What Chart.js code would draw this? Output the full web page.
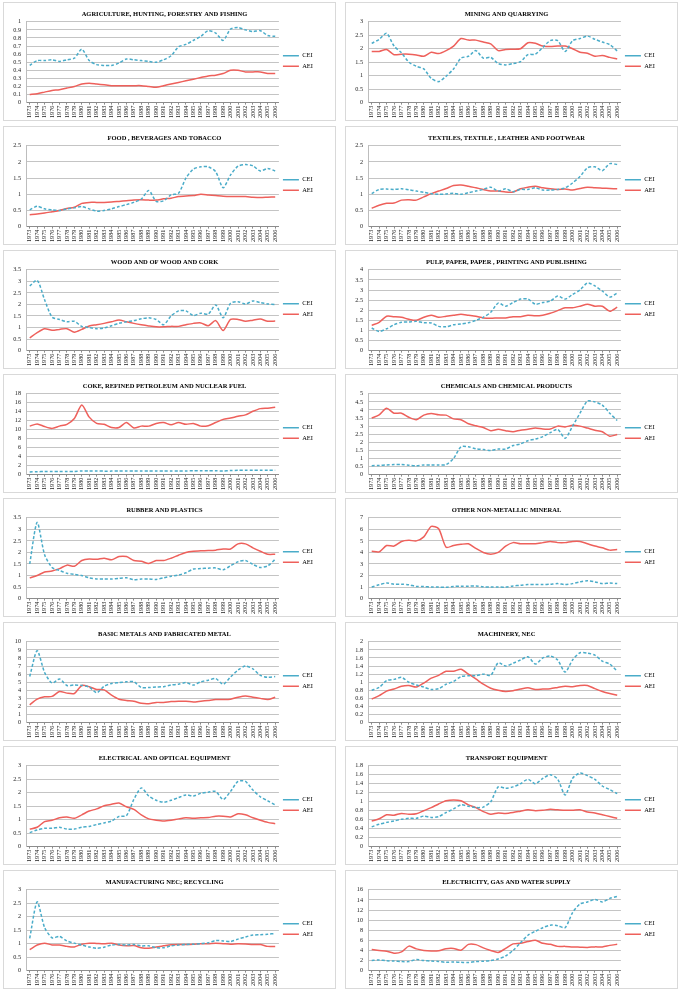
<!DOCTYPE html>
<html>
<head>
<meta charset="utf-8">
<script src="https://cdn.jsdelivr.net/npm/chart.js@4.4.0/dist/chart.umd.min.js"></script>
<style>
  body { margin: 0; background: #fff; }
  #grid { position: relative; width: 683px; height: 994px; }
  .panel { position: absolute; width: 331px; height: 117px; border: 1px solid #d9d9d9; background: #fff; }
  .panel canvas { display: block; }
</style>
</head>
<body>
<div id="grid"></div>
<script>
// years on the x axis
const years = [];
for (let y = 1973; y <= 2006; y++) years.push(String(y));

// ---------------- data per sector ----------------
const ceiAgriculture = [0.46,0.52,0.52,0.53,0.51,0.53,0.55,0.66,0.52,0.47,0.46,0.46,0.49,0.54,0.53,0.52,0.51,0.50,0.53,0.58,0.69,0.72,0.77,0.82,0.89,0.86,0.77,0.91,0.93,0.90,0.88,0.89,0.83,0.82];
const aeiAgriculture = [0.10,0.11,0.13,0.15,0.16,0.18,0.20,0.23,0.24,0.23,0.22,0.21,0.21,0.21,0.21,0.21,0.20,0.19,0.21,0.23,0.25,0.27,0.29,0.31,0.33,0.34,0.36,0.40,0.40,0.38,0.38,0.38,0.36,0.36];

const ceiMining = [2.2,2.35,2.57,2.1,1.85,1.5,1.35,1.25,0.9,0.78,0.98,1.25,1.65,1.72,1.93,1.65,1.68,1.45,1.4,1.45,1.52,1.78,1.8,2.05,2.3,2.3,1.9,2.3,2.38,2.47,2.35,2.25,2.15,1.92];
const aeiMining = [1.9,1.9,1.97,1.78,1.8,1.8,1.77,1.72,1.87,1.82,1.93,2.1,2.38,2.32,2.32,2.25,2.18,1.93,1.97,1.98,2.0,2.22,2.2,2.1,2.08,2.1,2.1,2.0,1.87,1.83,1.72,1.75,1.68,1.62];

const ceiFood = [0.52,0.63,0.55,0.52,0.5,0.55,0.58,0.62,0.55,0.48,0.5,0.55,0.62,0.68,0.75,0.85,1.12,0.78,0.8,0.98,1.03,1.5,1.78,1.85,1.85,1.7,1.2,1.6,1.87,1.92,1.88,1.72,1.8,1.72];
const aeiFood = [0.37,0.39,0.42,0.46,0.5,0.56,0.6,0.72,0.75,0.75,0.75,0.76,0.78,0.8,0.82,0.83,0.82,0.82,0.86,0.88,0.93,0.95,0.96,1.0,0.98,0.96,0.94,0.93,0.93,0.93,0.91,0.9,0.91,0.92];

const ceiTextiles = [1.02,1.15,1.16,1.15,1.17,1.14,1.1,1.06,1.02,1.0,1.01,1.03,1.0,1.05,1.1,1.15,1.22,1.1,1.17,1.08,1.15,1.15,1.2,1.13,1.13,1.15,1.2,1.35,1.55,1.82,1.85,1.73,1.95,1.92];
const aeiTextiles = [0.57,0.66,0.72,0.73,0.82,0.83,0.82,0.92,1.02,1.1,1.18,1.27,1.29,1.25,1.2,1.15,1.1,1.1,1.07,1.07,1.17,1.22,1.25,1.2,1.17,1.15,1.16,1.13,1.18,1.22,1.2,1.19,1.18,1.17];

const ceiWood = [2.8,3.05,2.2,1.45,1.35,1.25,1.27,1.05,1.0,0.95,0.98,1.08,1.18,1.25,1.3,1.38,1.42,1.35,1.12,1.5,1.72,1.72,1.52,1.62,1.58,1.98,1.42,2.05,2.12,2.02,2.15,2.08,2.02,2.0];
const aeiWood = [0.55,0.78,0.95,0.88,0.92,0.95,0.8,0.92,1.07,1.12,1.18,1.25,1.33,1.25,1.18,1.12,1.07,1.03,1.03,1.05,1.05,1.12,1.18,1.2,1.08,1.3,0.87,1.35,1.35,1.27,1.32,1.37,1.27,1.28];

const ceiPaper = [1.12,0.95,1.08,1.28,1.4,1.42,1.45,1.38,1.37,1.2,1.18,1.28,1.32,1.38,1.5,1.65,1.9,2.35,2.2,2.38,2.55,2.55,2.3,2.38,2.45,2.7,2.55,2.78,3.0,3.35,3.2,2.95,2.65,2.85];
const aeiPaper = [1.25,1.4,1.7,1.68,1.65,1.55,1.5,1.65,1.75,1.65,1.7,1.75,1.8,1.75,1.7,1.62,1.6,1.62,1.62,1.68,1.68,1.75,1.72,1.75,1.85,1.98,2.12,2.12,2.2,2.3,2.2,2.2,1.95,2.15];

const ceiCoke = [0.6,0.65,0.7,0.7,0.7,0.72,0.72,0.8,0.8,0.8,0.78,0.78,0.8,0.82,0.82,0.82,0.82,0.8,0.78,0.82,0.82,0.82,0.85,0.85,0.85,0.85,0.82,0.9,0.95,0.95,0.95,0.95,0.95,0.95];
const aeiCoke = [10.8,11.3,10.7,10.3,10.8,11.2,12.5,15.5,12.8,11.4,11.2,10.5,10.5,11.6,10.4,10.8,10.8,11.4,11.6,11.1,11.6,11.2,11.4,10.8,10.9,11.6,12.3,12.6,13.0,13.3,14.1,14.7,14.8,15.0];

const ceiChemicals = [0.55,0.57,0.6,0.62,0.62,0.58,0.55,0.6,0.6,0.6,0.62,1.0,1.72,1.72,1.6,1.55,1.5,1.58,1.58,1.8,1.9,2.1,2.2,2.35,2.6,2.8,2.25,3.0,3.8,4.55,4.5,4.3,3.8,3.35];
const aeiChemicals = [3.5,3.7,4.1,3.8,3.8,3.55,3.4,3.68,3.78,3.7,3.68,3.45,3.4,3.15,3.02,2.92,2.72,2.8,2.72,2.65,2.75,2.8,2.88,2.82,2.82,3.0,2.95,3.05,3.0,2.88,2.75,2.65,2.38,2.48];

const ceiRubber = [1.5,3.3,1.9,1.35,1.22,1.1,1.05,1.0,0.9,0.85,0.85,0.85,0.88,0.9,0.82,0.85,0.85,0.83,0.9,0.97,1.02,1.12,1.28,1.3,1.32,1.33,1.25,1.42,1.6,1.65,1.48,1.35,1.42,1.7];
const aeiRubber = [0.9,1.0,1.15,1.2,1.3,1.45,1.4,1.65,1.72,1.7,1.75,1.68,1.82,1.82,1.65,1.62,1.52,1.65,1.65,1.75,1.88,2.0,2.05,2.07,2.08,2.1,2.15,2.15,2.37,2.37,2.2,2.05,1.92,1.92];

const ceiMineral = [1.0,1.2,1.35,1.25,1.25,1.2,1.05,1.05,1.0,1.0,0.98,1.05,1.08,1.08,1.1,1.02,1.0,1.0,1.0,1.1,1.15,1.22,1.22,1.22,1.25,1.3,1.22,1.3,1.45,1.55,1.45,1.3,1.35,1.3];
const aeiMineral = [4.1,4.05,4.6,4.55,4.95,5.05,5.0,5.35,6.25,6.05,4.45,4.6,4.7,4.75,4.35,4.0,3.85,4.0,4.55,4.85,4.75,4.75,4.75,4.85,4.95,4.85,4.85,4.95,4.95,4.75,4.55,4.4,4.2,4.25];

const ceiMetals = [5.7,8.9,6.2,4.9,5.4,4.6,4.65,4.6,4.4,3.7,4.5,4.85,4.95,5.05,5.05,4.35,4.35,4.4,4.45,4.65,4.75,4.95,4.65,5.05,5.25,5.45,4.75,5.65,6.5,7.0,6.65,5.85,5.6,5.7];
const aeiMetals = [2.2,2.9,3.2,3.25,3.85,3.65,3.6,4.6,4.45,4.1,4.05,3.4,2.9,2.75,2.65,2.4,2.35,2.5,2.5,2.6,2.65,2.65,2.55,2.65,2.75,2.85,2.85,2.9,3.15,3.3,3.15,3.0,2.85,3.15];

const ceiMachinery = [0.8,0.87,1.04,1.07,1.12,1.0,0.93,0.88,0.82,0.84,0.95,1.02,1.14,1.16,1.16,1.2,1.17,1.48,1.4,1.47,1.55,1.63,1.45,1.6,1.65,1.55,1.25,1.55,1.73,1.72,1.67,1.52,1.45,1.27];
const aeiMachinery = [0.58,0.67,0.78,0.83,0.9,0.92,0.88,0.98,1.1,1.17,1.27,1.27,1.32,1.2,1.08,0.95,0.85,0.8,0.77,0.79,0.83,0.86,0.82,0.83,0.84,0.87,0.9,0.89,0.92,0.92,0.84,0.77,0.72,0.68];

const ceiElectrical = [0.52,0.62,0.68,0.68,0.72,0.65,0.65,0.72,0.75,0.82,0.88,0.95,1.12,1.15,1.75,2.18,1.88,1.72,1.65,1.72,1.82,1.92,1.88,1.98,2.02,2.05,1.75,2.05,2.42,2.42,2.1,1.85,1.7,1.55];
const aeiElectrical = [0.65,0.72,0.93,0.98,1.07,1.1,1.05,1.18,1.32,1.4,1.52,1.57,1.62,1.48,1.38,1.18,1.03,0.98,0.95,0.98,1.03,1.07,1.05,1.07,1.08,1.13,1.13,1.1,1.22,1.18,1.07,0.98,0.9,0.85];

const ceiTransport = [0.44,0.5,0.54,0.57,0.61,0.63,0.63,0.68,0.65,0.67,0.76,0.84,0.93,0.9,0.87,0.88,1.0,1.33,1.3,1.33,1.4,1.5,1.4,1.52,1.6,1.5,1.15,1.52,1.64,1.58,1.5,1.35,1.27,1.18];
const aeiTransport = [0.57,0.62,0.71,0.7,0.74,0.72,0.73,0.8,0.87,0.95,1.02,1.04,1.02,0.93,0.87,0.78,0.72,0.75,0.74,0.76,0.79,0.82,0.8,0.81,0.83,0.82,0.81,0.81,0.82,0.77,0.75,0.71,0.67,0.63];

const ceiManufNec = [1.2,2.55,1.6,1.22,1.27,1.1,1.02,0.95,0.88,0.83,0.87,0.95,0.97,0.95,0.97,0.92,0.92,0.85,0.85,0.92,0.95,0.97,0.98,1.0,1.03,1.12,1.1,1.08,1.17,1.25,1.32,1.33,1.35,1.38];
const aeiManufNec = [0.78,0.95,1.02,0.95,0.95,0.9,0.88,0.98,1.02,1.01,1.0,1.02,0.95,0.92,0.93,0.85,0.83,0.88,0.92,0.96,0.97,0.97,0.98,1.0,1.0,1.02,1.0,0.98,1.0,0.99,0.97,0.97,0.9,0.9];

const ceiUtilities = [2.0,2.1,1.95,1.9,1.8,1.8,2.2,2.0,1.9,1.8,1.65,1.7,1.65,1.6,1.8,1.85,2.0,2.3,2.9,4.0,5.5,7.0,7.8,8.5,9.0,8.9,8.5,11.5,13.2,13.6,14.1,13.6,14.3,14.7];
const aeiUtilities = [4.2,4.0,3.85,3.45,3.7,4.85,4.3,4.0,3.9,3.95,4.35,4.4,4.05,5.2,5.15,4.5,4.0,3.6,4.4,5.3,5.4,5.75,6.0,5.4,5.2,4.8,4.8,4.7,4.65,4.6,4.7,4.7,5.0,5.2];

// titles, axis max and step (same order as the panels)
const titles = [
    "AGRICULTURE, HUNTING, FORESTRY AND FISHING", "MINING AND QUARRYING",
    "FOOD , BEVERAGES AND TOBACCO", "TEXTILES, TEXTILE , LEATHER AND FOOTWEAR",
    "WOOD AND OF WOOD AND CORK", "PULP, PAPER, PAPER , PRINTING AND PUBLISHING",
    "COKE, REFINED PETROLEUM AND NUCLEAR FUEL", "CHEMICALS AND CHEMICAL PRODUCTS",
    "RUBBER AND PLASTICS", "OTHER NON-METALLIC MINERAL",
    "BASIC METALS AND FABRICATED METAL", "MACHINERY, NEC",
    "ELECTRICAL AND OPTICAL EQUIPMENT", "TRANSPORT EQUIPMENT",
    "MANUFACTURING NEC; RECYCLING", "ELECTRICITY, GAS AND WATER SUPPLY"
];
const yMax  = [1, 3, 2.5, 2.5, 3.5, 4, 18, 5, 3.5, 7, 10, 2, 3, 1.8, 3, 16];
const yStep = [0.1, 0.5, 0.5, 0.5, 0.5, 0.5, 2, 0.5, 0.5, 1, 1, 0.2, 0.5, 0.2, 0.5, 2];

const ceiSeries = [ceiAgriculture, ceiMining, ceiFood, ceiTextiles, ceiWood, ceiPaper, ceiCoke, ceiChemicals,
    ceiRubber, ceiMineral, ceiMetals, ceiMachinery, ceiElectrical, ceiTransport, ceiManufNec, ceiUtilities];
const aeiSeries = [aeiAgriculture, aeiMining, aeiFood, aeiTextiles, aeiWood, aeiPaper, aeiCoke, aeiChemicals,
    aeiRubber, aeiMineral, aeiMetals, aeiMachinery, aeiElectrical, aeiTransport, aeiManufNec, aeiUtilities];

const ceiColor = '#4aacc9';
const aeiColor = '#ee605b';
const serif = "'Liberation Serif', 'Times New Roman', serif";

// ---------------- build the panels ----------------
const grid = document.getElementById("grid");
for (let i = 0; i < titles.length; i++) {
    let col = i % 2;
    let row = Math.floor(i / 2);
    let div = document.createElement("div");
    div.className = "panel";
    div.style.left = (col == 0 ? 3 : 345) + "px";
    div.style.top = (2 + row * 124) + "px";
    let canvas = document.createElement("canvas");
    canvas.width = 331;
    canvas.height = 117;
    div.appendChild(canvas);
    grid.appendChild(div);

    new Chart(canvas.getContext('2d'), {
        type: 'line',
        data: {
            labels: years,
            datasets: [{
                label: 'CEI',
                data: ceiSeries[i],
                borderColor: ceiColor,
                backgroundColor: ceiColor,
                borderWidth: 1.5,
                borderDash: [3, 2],
                pointRadius: 0,
                tension: 0.25
            }, {
                label: 'AEI',
                data: aeiSeries[i],
                borderColor: aeiColor,
                backgroundColor: aeiColor,
                borderWidth: 1.5,
                pointRadius: 0,
                tension: 0.25
            }]
        },
        options: {
            responsive: false,
            animation: false,
            layout: { padding: { left: 2, right: 12, top: 0, bottom: 1 } },
            plugins: {
                title: {
                    display: true,
                    text: titles[i],
                    color: '#000',
                    font: { family: serif, size: 6.5, weight: 'bold' },
                    padding: { top: 7, bottom: 4 }
                },
                legend: {
                    position: 'right',
                    labels: {
                        usePointStyle: true,
                        pointStyle: 'line',
                        pointStyleWidth: 16,
                        boxHeight: 6,
                        color: '#000',
                        padding: 4,
                        font: { family: serif, size: 6.5 }
                    }
                },
                tooltip: { enabled: false }
            },
            scales: {
                x: {
                    offset: true,
                    grid: { drawOnChartArea: false, tickLength: 2, color: '#8c8c8c' },
                    border: { display: true, color: '#8c8c8c' },
                    ticks: {
                        autoSkip: false,
                        minRotation: 90,
                        maxRotation: 90,
                        padding: 1,
                        color: '#222',
                        font: { family: serif, size: 6.2 }
                    }
                },
                y: {
                    min: 0,
                    max: yMax[i],
                    afterFit: function (scale) { scale.width = 20; },
                    grid: { color: '#c4c4c4', drawTicks: false },
                    border: { display: true, color: '#bdbdbd' },
                    ticks: {
                        autoSkip: false,
                        stepSize: yStep[i],
                        padding: 5,
                        color: '#222',
                        font: { family: serif, size: 6.2 },
                        callback: function (value) { return String(Number(value.toFixed(2))); }
                    }
                }
            }
        }
    });
}
</script>
</body>
</html>
